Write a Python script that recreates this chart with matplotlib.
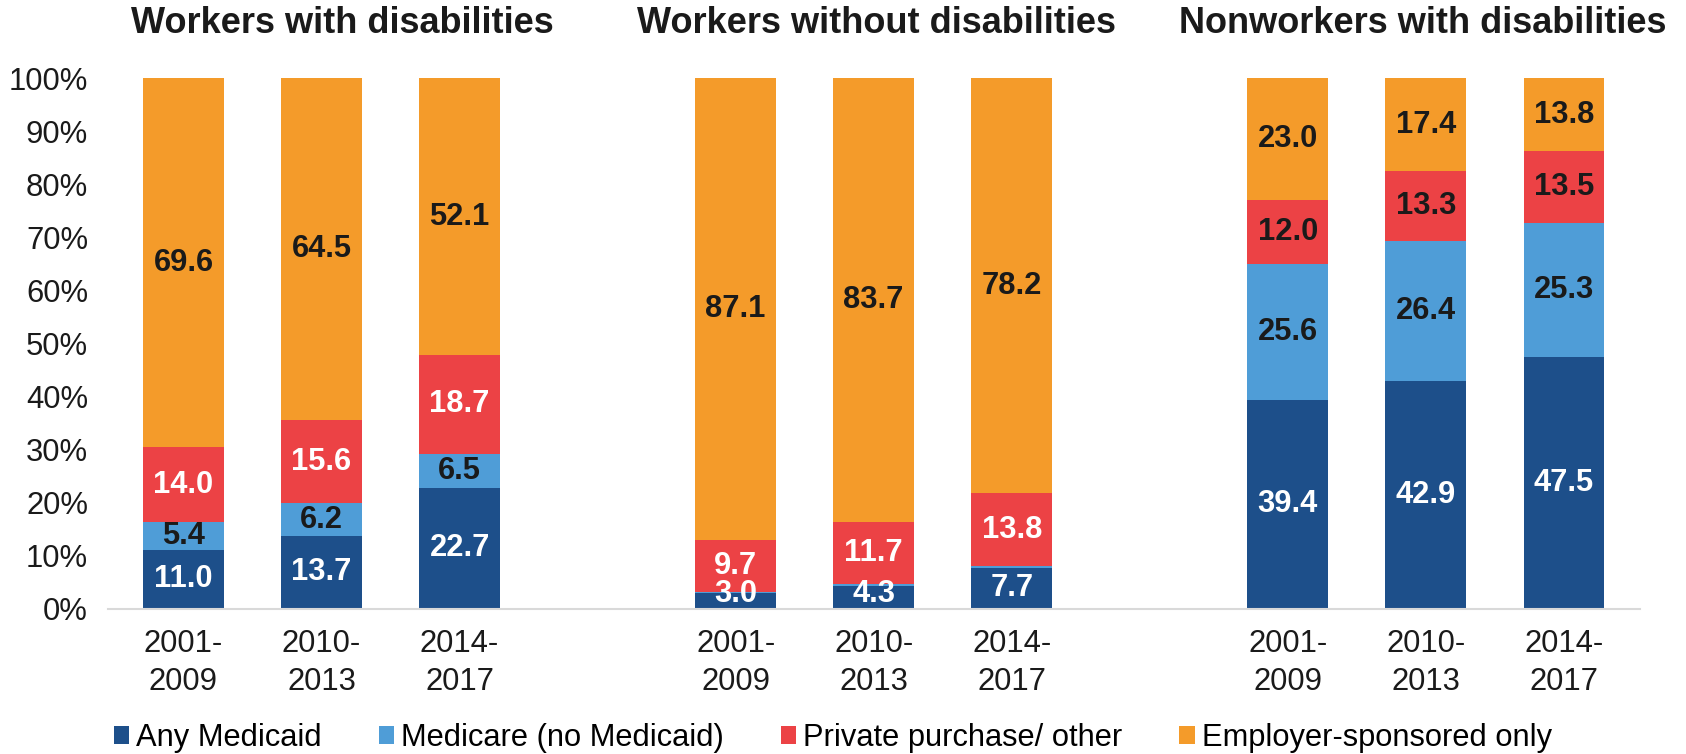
import matplotlib
matplotlib.use("Agg")
import matplotlib.pyplot as plt
from matplotlib.patches import Patch
from matplotlib.transforms import blended_transform_factory
import numpy as np

plt.rcParams['font.family'] = ['Liberation Sans', 'DejaVu Sans']

groups = ["Workers with disabilities", "Workers without disabilities", "Nonworkers with disabilities"]
periods = ["2001-\n2009", "2010-\n2013", "2014-\n2017"]
series = ["Any Medicaid", "Medicare (no Medicaid)", "Private purchase/ other", "Employer-sponsored only"]

any_medicaid = [11.0, 13.7, 22.7, 3.0, 4.3, 7.7, 39.4, 42.9, 47.5]
medicare = [5.4, 6.2, 6.5, 0.2, 0.3, 0.3, 25.6, 26.4, 25.3]
private_other = [14.0, 15.6, 18.7, 9.7, 11.7, 13.8, 12.0, 13.3, 13.5]
employer_only = [69.6, 64.5, 52.1, 87.1, 83.7, 78.2, 23.0, 17.4, 13.8]

colors = ["#1D4F8A", "#4F9DD7", "#EC4245", "#F49B2A"]
# text colour for each value label, per series and bar
label_colors = [
    ["white"] * 9,
    ["#1a1a1a"] * 9,
    ["white"] * 6 + ["#1a1a1a"] * 3,
    ["#1a1a1a"] * 9,
]
# Medicare slices for workers without disabilities are too thin to label
show_label = [
    [True] * 9,
    [True, True, True, False, False, False, True, True, True],
    [True] * 9,
    [True] * 9,
]

values = [any_medicaid, medicare, private_other, employer_only]

fig = plt.figure(figsize=(16.86, 7.54), dpi=100)
ax = fig.add_axes([0.0638, 0.1929, 0.9088, 0.7030])

x = np.array([0, 1, 2, 4, 5, 6, 8, 9, 10], dtype=float)
width = 0.585
bottom = np.zeros(len(x))
for si, vals in enumerate(values):
    vals = np.array(vals)
    ax.bar(x, vals, width, bottom=bottom, color=colors[si], edgecolor="none", zorder=2)
    for i in range(len(x)):
        if not show_label[si][i]:
            continue
        yc = bottom[i] + vals[i] / 2
        yc = max(yc, 2.8)
        ax.text(x[i], yc, f"{vals[i]:.1f}", ha="center", va="center",
                fontsize=22.2, fontweight="bold", color=label_colors[si][i], zorder=3)
    bottom += vals

ax.set_xlim(-0.55, 10.55)
ax.set_ylim(0, 100)
ax.set_yticks(np.arange(0, 101, 10))
ax.set_yticklabels([f"{v}%" for v in range(0, 101, 10)], fontsize=22.3, color="#1a1a1a")
ax.set_xticks(x)
ax.set_xticklabels(periods * 3, fontsize=22.3, color="#1a1a1a", linespacing=1.32)
ax.tick_params(axis="both", length=0)
ax.tick_params(axis="x", pad=15)
ax.tick_params(axis="y", pad=14)
for s in ["left", "right", "top"]:
    ax.spines[s].set_visible(False)
ax.spines["bottom"].set_color("#D9D9D9")
ax.spines["bottom"].set_linewidth(1.5)

title_tr = blended_transform_factory(ax.transData, fig.transFigure)
title_x = [1.15, 5.02, 8.98]
for gx, g in zip(title_x, groups):
    ax.text(gx, 0.9686, g, transform=title_tr, ha="center", va="center",
            fontsize=26, fontweight="bold", color="#1a1a1a")

handles = [Patch(facecolor=c, edgecolor="none") for c in colors]
fig.legend(handles, series, loc="center", bbox_to_anchor=(0.494, 0.0216), ncol=4,
           frameon=False, fontsize=22.2, handlelength=0.5, handleheight=0.5,
           handletextpad=0.22, columnspacing=1.85, borderaxespad=0, borderpad=0)

fig.savefig("out.png", dpi=100)
